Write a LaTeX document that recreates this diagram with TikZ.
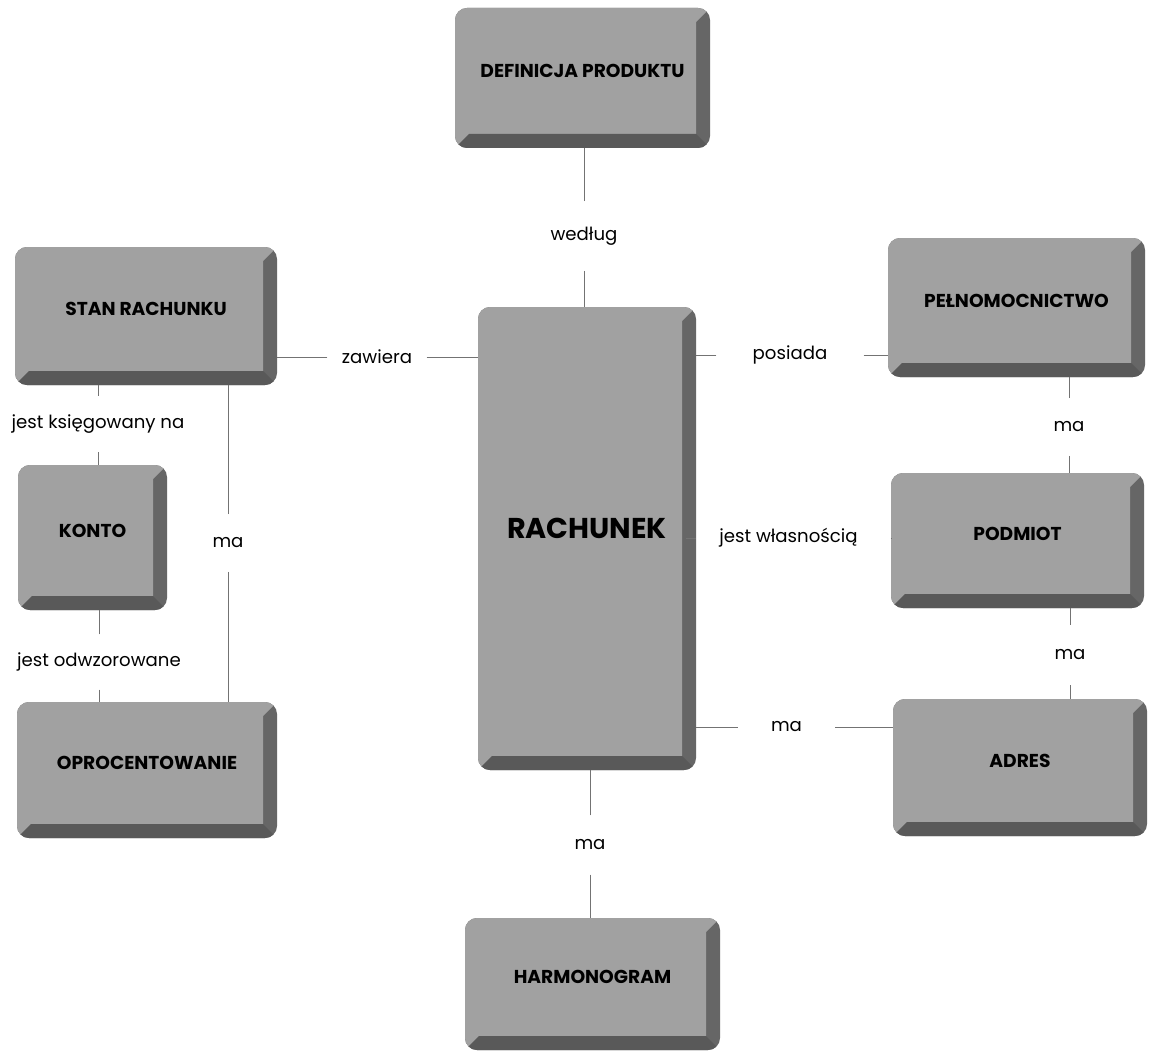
\documentclass[tikz,border=0pt]{standalone}
\usepackage{fontspec}
\setmainfont{Poppins}
\newfontfamily\keyfont{Poppins}[UprightFont=* Bold]
\usetikzlibrary{fit}

\definecolor{keyface}{gray}{0.63}
\definecolor{keyside}{gray}{0.40}
\definecolor{keybottom}{gray}{0.35}
\definecolor{wire}{gray}{0.45}

\tikzset{
  x=0.75pt, y=-0.75pt,
  % raised key: light top face, darker right and bottom bevels
  keycap/.style={
    rectangle, rounded corners=9pt, fill=keyside, inner sep=0pt,
    font=\keyfont\fontsize{14}{16}\selectfont,
    path picture={
      \fill[keyface, sharp corners]
        (path picture bounding box.north west) --
        (path picture bounding box.north east) --
        ([shift={(-10.5pt,-10.5pt)}]path picture bounding box.north east) --
        ([shift={(-10.5pt,10.5pt)}]path picture bounding box.south east) --
        ([shift={(10.5pt,10.5pt)}]path picture bounding box.south west) --
        (path picture bounding box.south west) -- cycle;
      \fill[keybottom, sharp corners]
        (path picture bounding box.south west) --
        ([shift={(10.5pt,10.5pt)}]path picture bounding box.south west) --
        ([shift={(-10.5pt,10.5pt)}]path picture bounding box.south east) --
        (path picture bounding box.south east) -- cycle;
    }
  },
  rel/.style={inner sep=0pt, font=\fontsize{13.6}{15}\selectfont, anchor=center},
  wire/.style={draw=wire, line width=0.6pt}
}

\begin{document}
\begin{tikzpicture}
\path[use as bounding box, fill=white] (0,0) rectangle (1155,1052);

% entities
\node[keycap, fit={(455,8) (710,148)}]    (def)   {DEFINICJA PRODUKTU};
\node[keycap, fit={(15,247) (277,385)}]   (stan)  {STAN RACHUNKU};
\node[keycap, fit={(18,465) (167,610)}]   (konto) {KONTO};
\node[keycap, fit={(17,702) (277,838)}]   (oproc) {OPROCENTOWANIE};
\node[keycap, fit={(478,307) (696,770)}, font=\keyfont\fontsize{21.5}{24}\selectfont] (rach) {RACHUNEK};
\node[keycap, fit={(888,238) (1145,377)}] (peln)  {PEŁNOMOCNICTWO};
\node[keycap, fit={(891,473) (1144,608)}] (podm)  {PODMIOT};
\node[keycap, fit={(893,699) (1147,836)}] (adres) {ADRES};
\node[keycap, fit={(465,918) (720,1050)}] (harm)  {HARMONOGRAM};

% relationship labels (their size sets the gap left in each line)
\node[rel, minimum width=80,  minimum height=52] (wed) at (584,236)   {według};
\node[rel, minimum width=184, minimum height=42] (ksi) at (98,424)    {jest księgowany na};
\node[rel, minimum width=40,  minimum height=43] (ma1) at (228,543)   {ma};
\node[rel, minimum width=170, minimum height=41] (odw) at (99,662)    {jest odwzorowane};
\node[rel, minimum width=40,  minimum height=43] (ma2) at (1069,427)  {ma};
\node[rel, minimum width=40,  minimum height=45] (ma3) at (1070,655)  {ma};
\node[rel, minimum width=40,  minimum height=44] (ma4) at (590,845)   {ma};
\node[rel, minimum width=74,  minimum height=20] (zaw) at (377,357)   {zawiera};
\node[rel, minimum width=110, minimum height=20] (pos) at (790,355)   {posiada};
\node[rel, minimum width=153, minimum height=20] (wla) at (788.5,538) {jest własnością};
\node[rel, minimum width=73,  minimum height=20] (ma5) at (786.5,727) {ma};

% vertical connectors
\draw[wire] (wed.north) -- (wed.north |- def.south);
\draw[wire] (wed.south) -- (wed.south |- rach.north);
\draw[wire] (ksi.north) -- (ksi.north |- stan.south);
\draw[wire] (ksi.south) -- (ksi.south |- konto.north);
\draw[wire] (ma1.north) -- (ma1.north |- stan.south);
\draw[wire] (ma1.south) -- (ma1.south |- oproc.north);
\draw[wire] (odw.north) -- (odw.north |- konto.south);
\draw[wire] (odw.south) -- (odw.south |- oproc.north);
\draw[wire] (ma2.north) -- (ma2.north |- peln.south);
\draw[wire] (ma2.south) -- (ma2.south |- podm.north);
\draw[wire] (ma3.north) -- (ma3.north |- podm.south);
\draw[wire] (ma3.south) -- (ma3.south |- adres.north);
\draw[wire] (ma4.north) -- (ma4.north |- rach.south);
\draw[wire] (ma4.south) -- (ma4.south |- harm.north);

% horizontal connectors
\draw[wire] (zaw.west) -- (zaw.west -| stan.east);
\draw[wire] (zaw.east) -- (zaw.east -| rach.west);
\draw[wire] (pos.west) -- (pos.west -| rach.east);
\draw[wire] (pos.east) -- (pos.east -| peln.west);
\draw[wire] (wla.west) -- (wla.west -| rach.east);
\draw[wire] (wla.east) -- (wla.east -| podm.west);
\draw[wire] (ma5.west) -- (ma5.west -| rach.east);
\draw[wire] (ma5.east) -- (ma5.east -| adres.west);
\end{tikzpicture}
\end{document}
